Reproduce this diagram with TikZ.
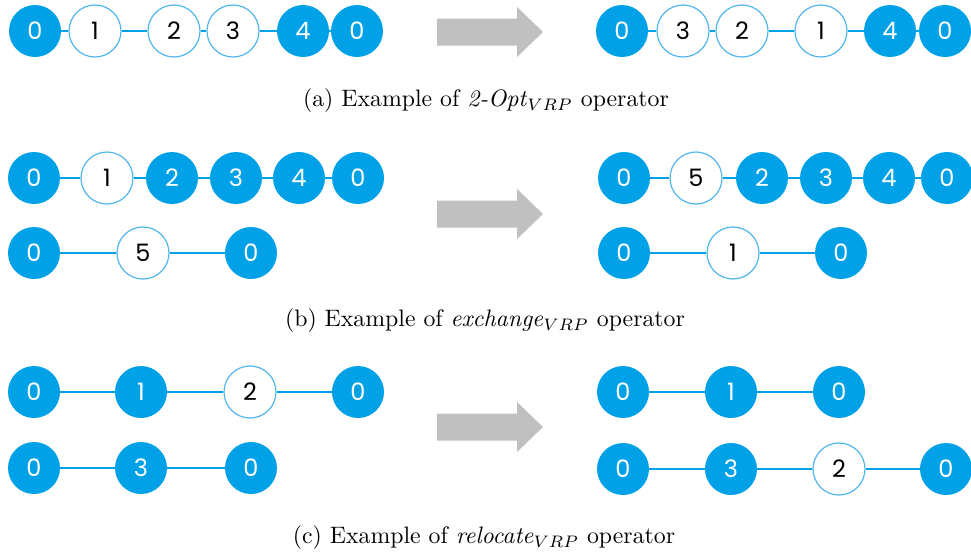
\documentclass[tikz,border=0pt]{standalone}
\usepackage{fontspec}
\newfontfamily\digitfont{Poppins}
\definecolor{nodeblue}{RGB}{0,161,230}
\definecolor{rimblue}{RGB}{80,182,236}
\definecolor{arrowgray}{RGB}{192,192,192}
\begin{document}
\begin{tikzpicture}[x=1pt,y=-1pt,
  vtx/.style={circle, minimum size=52pt, inner sep=0pt,
    font=\digitfont\fontsize{24}{24}\selectfont},
  full/.style={vtx, fill=nodeblue, text=white},
  hollow/.style={vtx, fill=white, draw=rimblue, line width=1.2pt, text=black},
  route/.style={draw=nodeblue, line width=1.8pt},
  caption/.style={font=\fontsize{10}{12}\selectfont, scale=2.38, inner sep=0pt},
  shiftarrow/.pic={\fill[arrowgray] (0,-13.5) -- (80,-13.5) -- (80,-25)
     -- (106,0) -- (80,25) -- (80,13.5) -- (0,13.5) -- cycle;}
]
\useasboundingbox (0,0) rectangle (971,554);

% ---------- (a) 2-Opt ----------
\node[full]   (a0) at (35,31)  {0};
\node[hollow] (a1) at (95,31)  {1};
\node[hollow] (a2) at (174,31) {2};
\node[hollow] (a3) at (233,31) {3};
\node[full]   (a4) at (303,31) {4};
\node[full]   (a5) at (357,31) {0};
\draw[route] (a0) -- (a1) (a1) -- (a2) (a2) -- (a3) (a3) -- (a4) (a4) -- (a5);

\pic at (437,32) {shiftarrow};

\node[full]   (A0) at (622,31) {0};
\node[hollow] (A1) at (683,31) {3};
\node[hollow] (A2) at (742,31) {2};
\node[hollow] (A3) at (821,31) {1};
\node[full]   (A4) at (890,31) {4};
\node[full]   (A5) at (945,31) {0};
\draw[route] (A0) -- (A1) (A1) -- (A2) (A2) -- (A3) (A3) -- (A4) (A4) -- (A5);

\node[caption] (capa) at (486,101) {(a) Example of \textit{2-Opt}$_{VRP}$ operator};

% ---------- (b) exchange ----------
\node[full]   (b0) at (34,178)  {0};
\node[hollow] (b1) at (107,178) {1};
\node[full]   (b2) at (172,178) {2};
\node[full]   (b3) at (236,178) {3};
\node[full]   (b4) at (299,178) {4};
\node[full]   (b5) at (358,178) {0};
\draw[route] (b0) -- (b1) (b1) -- (b2) (b2) -- (b3) (b3) -- (b4) (b4) -- (b5);
\node[full]   (c0) at (34,253)  {0};
\node[hollow] (c1) at (143,253) {5};
\node[full]   (c2) at (251,253) {0};
\draw[route] (c0) -- (c1) (c1) -- (c2);

\pic at (437,214) {shiftarrow};

\node[full]   (B0) at (624,178) {0};
\node[hollow] (B1) at (696,178) {5};
\node[full]   (B2) at (762,178) {2};
\node[full]   (B3) at (826,178) {3};
\node[full]   (B4) at (889,178) {4};
\node[full]   (B5) at (947,178) {0};
\draw[route] (B0) -- (B1) (B1) -- (B2) (B2) -- (B3) (B3) -- (B4) (B4) -- (B5);
\node[full]   (C0) at (624,253) {0};
\node[hollow] (C1) at (733,253) {1};
\node[full]   (C2) at (841,253) {0};
\draw[route] (C0) -- (C1) (C1) -- (C2);

\node[caption] (capb) at (485,321) {(b) Example of \textit{exchange}$_{VRP}$ operator};

% ---------- (c) relocate ----------
\node[full]   (d0) at (34,392)  {0};
\node[full]   (d1) at (141,392) {1};
\node[hollow] (d2) at (250,392) {2};
\node[full]   (d3) at (358,392) {0};
\draw[route] (d0) -- (d1) (d1) -- (d2) (d2) -- (d3);
\node[full]   (e0) at (34,468)  {0};
\node[full]   (e1) at (141,468) {3};
\node[full]   (e2) at (251,468) {0};
\draw[route] (e0) -- (e1) (e1) -- (e2);

\pic at (437,427) {shiftarrow};

\node[full]   (D0) at (623,392) {0};
\node[full]   (D1) at (731,392) {1};
\node[full]   (D2) at (839,392) {0};
\draw[route] (D0) -- (D1) (D1) -- (D2);
\node[full]   (E0) at (623,469) {0};
\node[full]   (E1) at (731,469) {3};
\node[hollow] (E2) at (839,469) {2};
\node[full]   (E3) at (946,469) {0};
\draw[route] (E0) -- (E1) (E1) -- (E2) (E2) -- (E3);

\node[caption] (capc) at (484,538) {(c) Example of \textit{relocate}$_{VRP}$ operator};
\end{tikzpicture}
\end{document}
